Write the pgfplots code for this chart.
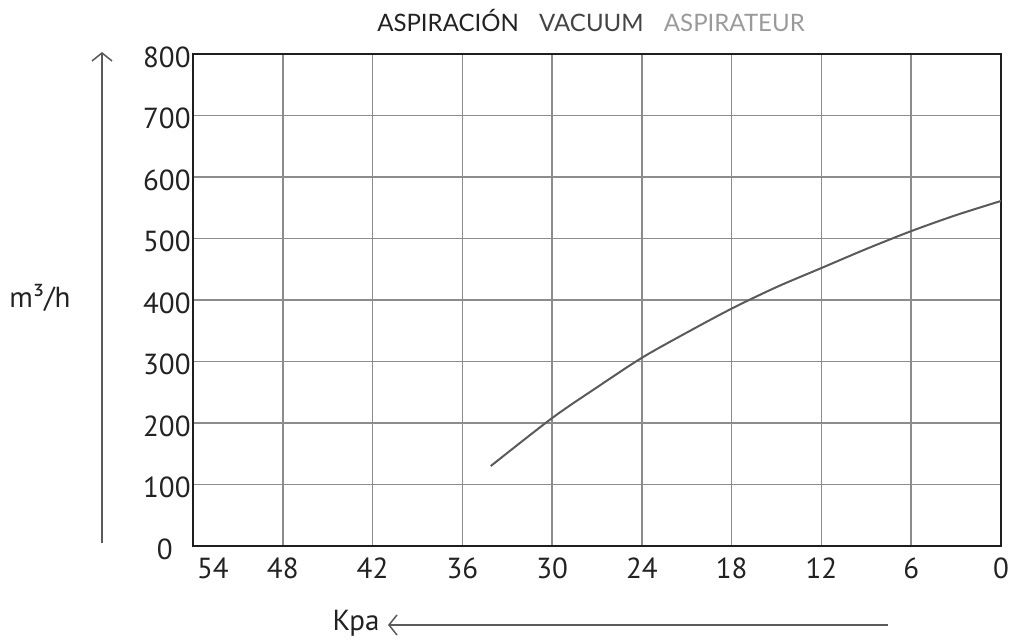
\documentclass[border=0pt]{standalone}
\usepackage{fontspec}
\usepackage{pgfplots}
\pgfplotsset{compat=1.18}
\usetikzlibrary{arrows.meta}
\newfontfamily\labelfont{PT Sans}
\newfontfamily\titlefont{Lato}
\definecolor{gridgray}{HTML}{8C8C8C}
\definecolor{curvegray}{HTML}{5A5A5A}
\definecolor{framec}{HTML}{1E1E1E}
\definecolor{txt}{HTML}{222222}
\begin{document}
\begin{tikzpicture}
\useasboundingbox (-96.5pt,-48.5pt) rectangle (408pt,273pt);
\begin{axis}[
  at={(0,0)}, anchor=south west,
  scale only axis, width=404pt, height=246pt,
  xmin=0, xmax=54, x dir=reverse,
  ymin=0, ymax=800,
  xtick={0,6,12,18,24,30,36,42,48,54},
  xticklabels={0,6,12,18,24,30,36,42,48,\hspace*{20pt}54},
  ytick={0,100,200,300,400,500,600,700,800},
  yticklabels={0\hspace*{9pt},100,200,300,400,500,600,700,800},
  grid=major,
  major grid style={color=gridgray, line width=0.75pt},
  axis line style={line width=1.3pt, color=framec},
  major tick length=0pt,
  tick style={draw=none},
  tick label style={font=\labelfont\fontsize{14.5}{16}\selectfont, text=txt},
  yticklabel style={anchor=east, inner sep=1pt, yshift=-1.5pt},
  xticklabel style={anchor=north, inner sep=1pt, yshift=-4.5pt},
]
\addplot[smooth, color=curvegray, line width=1pt] coordinates {
  (34.1,130) (30,208) (27,258) (24,306) (21,347) (18,386)
  (15,421) (12,452) (9,483) (6,512) (3,538) (0,561)
};
\end{axis}
% y arrow
\draw[color=curvegray, line width=0.75pt, -{Straight Barb[length=4pt, width=10pt]}] (-45.5pt,1.5pt) -- (-45.5pt,247pt);
% x arrow
\draw[color=curvegray, line width=0.75pt, -{Straight Barb[length=4pt, width=10pt]}] (347.5pt,-39.5pt) -- (97.5pt,-39.5pt);
\node[font=\labelfont\fontsize{14.5}{16}\selectfont, text=txt] at (81.5pt,-38.5pt) {Kpa};
\node[font=\labelfont\fontsize{14.5}{16}\selectfont, text=txt] at (-76.5pt,124pt) {m³/h};
\node[font=\titlefont\fontsize{12}{14}\selectfont] at (199pt,263pt) {\textcolor[HTML]{222222}{ASPIRACIÓN}\hspace{0.85em}\textcolor[HTML]{444444}{VACUUM}\hspace{0.85em}\textcolor[HTML]{9A9A9A}{ASPIRATEUR}};
\end{tikzpicture}
\end{document}
